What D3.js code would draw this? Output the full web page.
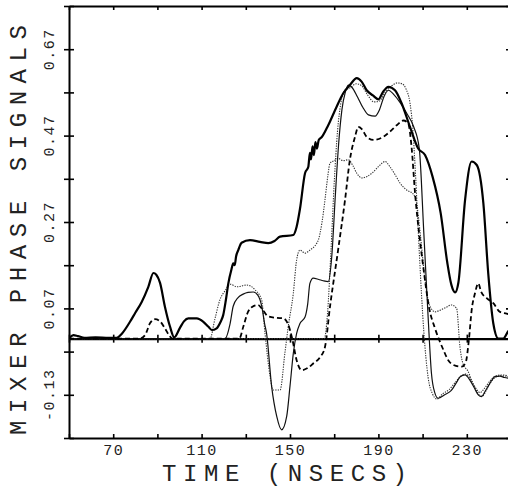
<!DOCTYPE html>
<html><head><meta charset="utf-8">
<script src="https://cdn.jsdelivr.net/npm/d3@7"></script>
<style>body{margin:0;background:#fff} svg{display:block}</style>
</head><body><svg id="c" width="508" height="492"></svg>
<script>
// ---- data ----
const xTickValues = [50,70,90,110,130,150,170,190,210,230,250];
const xTickLabels = [70,110,150,190,230];
const yTickValues = [-0.23,-0.13,-0.03,0.07,0.17,0.27,0.37,0.47,0.57,0.67,0.77];
const yTickLabels = ["-0.13","0.07","0.27","0.47","0.67"];
const xTitle = "TIME (NSECS)";
const yTitle = "MIXER PHASE SIGNALS";

// thick solid
const seriesA = [[50,0.0],[52,0.008],[54,0.006],[57,0.002],[62,0.003],[68,0.002],[71.6,0.002],[74,0.012],[77.6,0.039],[80,0.06],[82.9,0.085],[85.9,0.12],[88.2,0.152],[89.5,0.148],[91.2,0.129],[93.4,0.074],[95.7,0.028],[97.6,0.003],[100.2,0.025],[102,0.04],[104,0.047],[107.8,0.047],[110.8,0.039],[113,0.028],[114.6,0.02],[116.8,0.024],[118.5,0.038],[119.8,0.055],[121,0.09],[122.1,0.128],[123.5,0.16],[124.3,0.174],[125,0.17],[125.6,0.19],[126.6,0.205],[128.1,0.222],[131.9,0.228],[136.4,0.224],[140.2,0.221],[143,0.226],[145.5,0.236],[151.5,0.24],[153,0.259],[154.5,0.3],[156.8,0.383],[158.3,0.398],[159,0.43],[159.5,0.415],[160.2,0.445],[160.8,0.425],[161.5,0.455],[162.2,0.44],[163,0.46],[164.3,0.466],[167.3,0.494],[171.1,0.537],[174.1,0.568],[177.1,0.587],[180.2,0.603],[182.4,0.595],[184.7,0.575],[187.5,0.563],[190,0.554],[192.2,0.572],[194.5,0.583],[197.5,0.575],[200.5,0.545],[204.3,0.49],[208,0.44],[211.1,0.425],[214.5,0.375],[218.2,0.29],[221.2,0.175],[223,0.125],[224.7,0.107],[226.2,0.13],[229.2,0.32],[232.2,0.41],[234.5,0.402],[237.5,0.313],[239.7,0.151],[242,0.035],[244.3,0.0],[246.4,0.0],[248.6,0.016],[250,0.025]];
// heavy dashed
const seriesB = [[50,0],[82,0],[84.4,0.008],[86.7,0.036],[88.9,0.045],[91.2,0.04],[93.4,0.024],[95.7,0.005],[97,0],[127,0],[129,0.03],[131,0.062],[133,0.074],[135.5,0.078],[137.5,0.068],[140,0.052],[144,0.048],[147,0.047],[149,0.035],[151,0.0],[153,-0.05],[155.3,-0.073],[158,-0.068],[160.4,-0.058],[163.6,-0.043],[165.8,-0.02],[168.1,0.074],[171.9,0.21],[174.9,0.321],[177.1,0.414],[179.4,0.467],[180.9,0.49],[182.5,0.485],[184.7,0.467],[187.7,0.46],[192.2,0.467],[195.2,0.479],[198.3,0.494],[201.3,0.505],[203.5,0.498],[205,0.444],[206.6,0.336],[208.5,0.24],[210.3,0.166],[213,0.07],[215.6,0.024],[219.4,-0.026],[221.6,-0.05],[224,-0.061],[227.7,-0.065],[229.5,-0.055],[231,0.0],[232.2,0.066],[233.7,0.105],[235.2,0.128],[236.5,0.108],[239,0.094],[242,0.082],[245,0.062],[248,0.058],[250,0.055]];
// thin solid
const seriesC = [[50,0],[120.6,0],[122.9,0.035],[124.3,0.075],[126.5,0.095],[128.8,0.103],[131,0.107],[133.4,0.108],[135.5,0.1],[137.2,0.075],[138.5,0.035],[139.4,0.012],[141.7,-0.111],[144,-0.18],[146.2,-0.211],[148.5,-0.18],[150,-0.11],[151.5,-0.034],[153,0.012],[154.5,0.035],[156.8,0.05],[158,0.08],[159,0.128],[160.5,0.14],[163,0.137],[165,0.134],[167.3,0.132],[168.9,0.19],[170.5,0.33],[172,0.45],[173.5,0.53],[175,0.57],[176.4,0.587],[178,0.582],[180.5,0.56],[183,0.535],[185.5,0.518],[188.5,0.515],[190.5,0.53],[192.5,0.56],[194.5,0.575],[197,0.565],[200,0.545],[203,0.52],[206,0.49],[208.5,0.44],[210.5,0.25],[212.5,0.05],[214,-0.08],[215.5,-0.125],[217,-0.138],[220,-0.13],[223,-0.12],[225.5,-0.1],[227,-0.088],[229.2,-0.084],[231.4,-0.096],[233.5,-0.115],[235.2,-0.13],[236.7,-0.134],[238.5,-0.12],[240.5,-0.103],[242.8,-0.088],[245,-0.087],[247,-0.09],[250,-0.092]];
// fine dotted, lower plateau
const seriesD = [[50,0],[113.8,0],[116,0.045],[118.3,0.09],[120.5,0.11],[122.9,0.126],[126,0.12],[130.4,0.124],[134.2,0.113],[137.2,0.089],[138.7,0.012],[141,-0.088],[142.4,-0.119],[145.5,-0.119],[147.7,-0.033],[149.2,0.028],[151.5,0.105],[153,0.182],[154.5,0.205],[156.8,0.198],[159,0.205],[162,0.22],[162.8,0.228],[164.5,0.27],[165.8,0.32],[167.2,0.38],[168.1,0.406],[170,0.412],[171.9,0.417],[174,0.412],[176.4,0.414],[178.5,0.4],[180.2,0.383],[182.5,0.372],[184.7,0.375],[187.5,0.385],[190,0.398],[193,0.41],[195.2,0.398],[197.5,0.38],[199.8,0.36],[202.8,0.344],[205.7,0.335],[207.3,0.313],[209,0.24],[211,0.14],[213,0.08],[215.6,0.062],[218,0.066],[220.5,0.072],[223,0.078],[225.4,0.07],[226.9,-0.019],[228.4,-0.06],[230.5,-0.075],[232.5,-0.1],[234.5,-0.118],[236,-0.125],[238,-0.115],[240.5,-0.098],[243,-0.086],[246,-0.084],[250,-0.088]];
// fine dotted, tall
const seriesF = [[50,0],[165.5,0],[167,0.06],[168.5,0.2],[170,0.36],[171.5,0.48],[173,0.545],[174.9,0.575],[177,0.58],[180,0.59],[182.5,0.585],[185,0.565],[188,0.548],[190.5,0.55],[193,0.57],[196,0.585],[198.5,0.592],[200.7,0.59],[202.5,0.578],[204.3,0.545],[205.5,0.49],[206.8,0.38],[208.5,0.2],[210.5,0.02],[212.5,-0.09],[214.5,-0.128],[216.5,-0.14],[219,-0.128],[222,-0.118],[225,-0.1],[227.5,-0.086],[229.5,-0.082],[231.5,-0.092],[233.5,-0.112],[235.5,-0.13],[237,-0.133],[239,-0.118],[241,-0.1],[243.5,-0.088],[246,-0.086],[250,-0.09]];

// ---- drawing ----
const svg = d3.select("#c");
const X0=69, X1=511, Y0=6, Y1=438;
const x = d3.scaleLinear().domain([50,250]).range([X0,X1]);
const y = d3.scaleLinear().domain([-0.23,0.77]).range([Y1,Y0]);
const font = "'Liberation Mono', 'DejaVu Sans Mono', monospace";

svg.append("defs").append("clipPath").attr("id","clip")
  .append("rect").attr("x",X0).attr("y",Y0).attr("width",X1-X0).attr("height",Y1-Y0);

function styleAxis(g, w){
  g.select(".domain").attr("stroke","#000").attr("stroke-width",w);
  g.selectAll(".tick line").attr("stroke","#000").attr("stroke-width",1.6);
}

// bottom axis
const gB = svg.append("g").attr("transform",`translate(0,${Y1})`)
  .call(d3.axisBottom(x).tickValues(xTickValues).tickSize(-4).tickSizeOuter(0)
    .tickFormat(d => xTickLabels.includes(d) ? String(d) : ""));
styleAxis(gB,2);
gB.selectAll(".tick text").attr("y",17).attr("dy",0)
  .attr("font-family",font).attr("font-size",15).attr("letter-spacing","1.5px").attr("fill","#222");

// top axis
const gT = svg.append("g").attr("transform",`translate(0,${Y0})`)
  .call(d3.axisTop(x).tickValues(xTickValues).tickSize(-4).tickSizeOuter(0).tickFormat(""));
styleAxis(gT,2);

// zero line axis
const gZ = svg.append("g").attr("transform",`translate(0,${y(0)})`)
  .call(d3.axisBottom(x).tickValues(xTickValues).tickSize(4).tickSizeOuter(0).tickFormat(""));
styleAxis(gZ,2.2);
gZ.selectAll(".tick line").attr("y1",-4);

// left axis
const gL = svg.append("g").attr("transform",`translate(${X0},0)`)
  .call(d3.axisLeft(y).tickValues(yTickValues).tickSize(5).tickSizeOuter(0).tickFormat(""));
styleAxis(gL,2);
gL.selectAll(".tick line").attr("x1",5);

// right axis
const gR = svg.append("g").attr("transform",`translate(${X1},0)`)
  .call(d3.axisRight(y).tickValues(yTickValues).tickSize(-5).tickSizeOuter(0).tickFormat(""));
styleAxis(gR,2);

// y tick labels (rotated)
svg.append("g").selectAll("text").data(yTickLabels).join("text")
  .attr("transform", d => `translate(54,${y(+d)}) rotate(-90)`)
  .attr("text-anchor","middle")
  .attr("font-family",font).attr("font-size",15).attr("letter-spacing","1.5px").attr("fill","#222")
  .text(d => d);

// titles
svg.append("text").attr("x",162).attr("y",481)
  .attr("font-family",font).attr("font-size",24).attr("fill","#222")
  .attr("textLength",245).attr("lengthAdjust","spacing").text(xTitle);
svg.append("text").attr("transform","translate(26,230) rotate(-90)")
  .attr("text-anchor","middle")
  .attr("font-family",font).attr("font-size",24).attr("fill","#222")
  .attr("textLength",410).attr("lengthAdjust","spacing").text(yTitle);

// lines
const line = d3.line().x(d => x(d[0])).y(d => y(d[1])).curve(d3.curveMonotoneX);
const series = [
  {data: seriesD, w: 1.1, dash: "1.3,1.2", c: "#333"},
  {data: seriesF, w: 1.1, dash: "1.3,1.2", c: "#333"},
  {data: seriesC, w: 1.2, dash: null, c: "#111"},
  {data: seriesB, w: 1.8, dash: "5,3", c: "#000"},
  {data: seriesA, w: 2.2, dash: null, c: "#000"}
];
const gLines = svg.append("g").attr("clip-path","url(#clip)");
series.forEach(s => {
  gLines.append("path").datum(s.data).attr("d",line)
    .attr("fill","none").attr("stroke",s.c).attr("stroke-width",s.w)
    .attr("stroke-dasharray",s.dash).attr("stroke-linejoin","round");
});
</script></body></html>
